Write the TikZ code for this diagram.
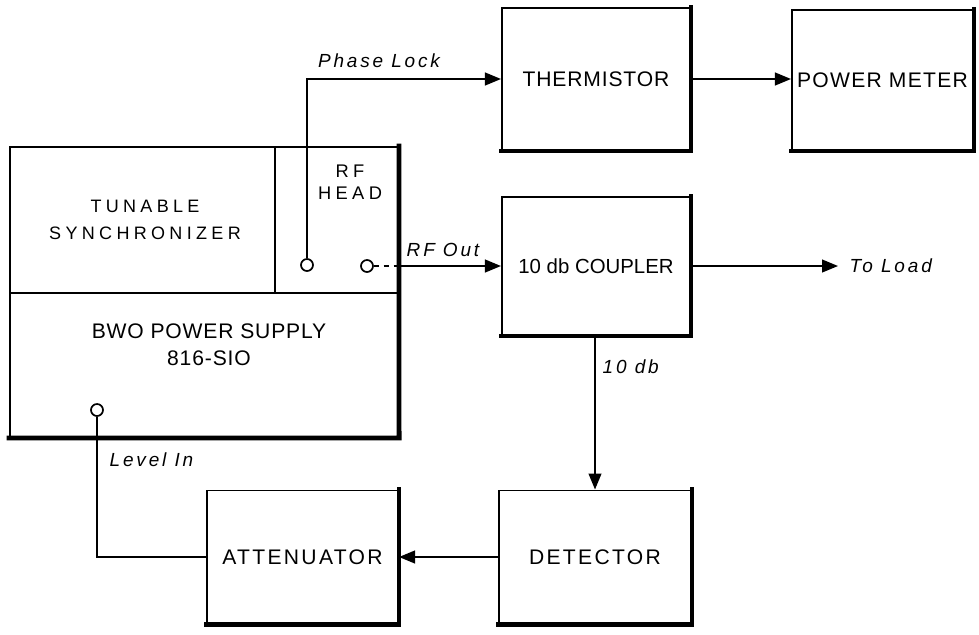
\documentclass[tikz,border=0pt]{standalone}
\usepackage{fontspec}
\setmainfont{Liberation Sans}
\newfontfamily\boxfont[LetterSpace=4]{Liberation Sans}
\newfontfamily\widefont[LetterSpace=24]{Liberation Sans}
\usetikzlibrary{
	arrows.meta,
	positioning
}

\begin{document}
\begin{tikzpicture}[
				x=0.025cm, y=-0.025cm,
				block/.style={draw, line width=1.4pt, inner sep=0pt, align=center, font=\boxfont\fontsize{15}{18}\selectfont},
				boxtext/.style={inner sep=0pt, align=center, font=\boxfont\fontsize{13.5}{19}\selectfont},
				heavy/.style={line width=3.5pt, line cap=rect},
				port/.style={circle, draw, line width=1.2pt, inner sep=0pt, minimum size=0.3cm},
				line/.style={line width=1.2pt},
				arrow/.style={line, -{Triangle[length=0.4cm, width=0.32cm]}},
				tag/.style={inner sep=1pt, font=\fontsize{13.5}{15}\selectfont\itshape\addfontfeature{LetterSpace=15}}
			]
				\useasboundingbox (0,0) rectangle (979,634);
				% BWO unit
				\node[block, minimum width=6.625cm, minimum height=3.65cm] (sync)   at (142.5,220) {};
				\node[block, minimum width=3.075cm, minimum height=3.65cm] (rfhead) at (336.5,220) {};
				\node[block, minimum width=9.7cm,   minimum height=3.6cm]  (supply) at (204,365)   {};
				\node[boxtext, font=\widefont\fontsize{12.8}{19}\selectfont] (synctxt) at (145,220) {TUNABLE\\SYNCHRONIZER};
				\node[boxtext, font=\widefont\fontsize{13}{16}\selectfont] (rfheadtxt) at (350,182) {RF\\HEAD};
				\node[boxtext, font=\boxfont\fontsize{15}{19}\selectfont] (supplytxt) at (209,345) {BWO POWER SUPPLY\\816-SIO};
				\node[port] (lockport)  at (307,265) {};
				\node[port] (rfport)    at (367,266) {};
				\node[port] (levelport) at (97,410)  {};
				% other blocks
				\node[block, minimum width=4.7cm,   minimum height=3.55cm] (therm)    at (596,79)    {THERMISTOR};
				\node[block, minimum width=4.525cm, minimum height=3.5cm]  (meter)    at (882.5,80)  {\addfontfeature{LetterSpace=6}POWER METER};
				\node[block, minimum width=4.7cm,   minimum height=3.45cm, font=\fontsize{14.5}{16}\selectfont] (coupler) at (596,266) {10 db COUPLER};
				\node[block, minimum width=4.8cm,   minimum height=3.325cm] (detector) at (595,557)   {\addfontfeature{LetterSpace=11}DETECTOR};
				\node[block, minimum width=4.775cm, minimum height=3.325cm] (atten)    at (302.5,557) {\addfontfeature{LetterSpace=11}ATTENUATOR};
				% heavy edges
				\foreach \n in {therm, meter, coupler, detector, atten}
					\draw[heavy] (\n.north east) -- (\n.south east) -- (\n.south west);
				\draw[heavy] (rfhead.north east) -- (supply.south east) -- (supply.south west);
				% labels
				\node[tag] (locktag) at (379,61) {Phase Lock};
				\node[tag] (rftag)   at (443,250) {RF Out};
				\node[tag, anchor=west] (loadtag)  at (848,266) {To Load};
				\node[tag, anchor=west] (dbtag)    at (601,367) {10 db};
				\node[tag, anchor=west] (leveltag) at (108,460) {Level In};
				% connectors
				\draw[arrow] (lockport) |- (therm.west);
				\draw[line, dash pattern=on 4pt off 3pt] (rfport) -- (rfhead.east |- rfport);
				\draw[arrow] (rfhead.east |- rfport) -- (coupler.west);
				\draw[arrow] (therm.east) -- (therm.east -| meter.west);
				\draw[arrow, shorten >=0.25cm] (coupler.east) -- (loadtag.west);
				\draw[arrow] (coupler.south -| detector.north) -- (detector.north);
				\draw[arrow] (detector) -- (atten);
				\draw[line] (levelport) |- (atten.west);
			\end{tikzpicture}
\end{document}
